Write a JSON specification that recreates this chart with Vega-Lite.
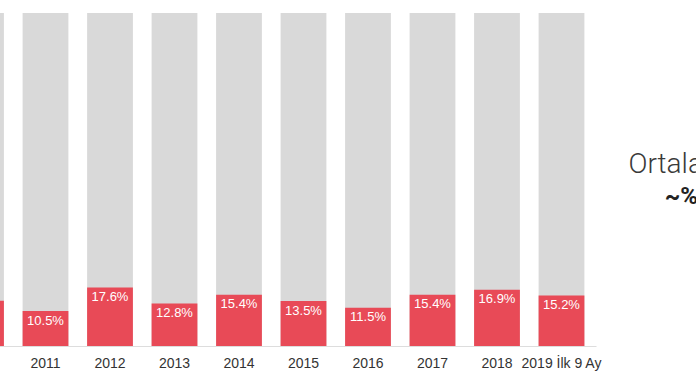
{
  "$schema": "https://vega.github.io/schema/vega-lite/v6.json",
  "width": 596,
  "height": 333,
  "autosize": {"type": "none"},
  "padding": {"left": 0, "top": 13, "right": 100, "bottom": 39},
  "background": "white",
  "config": {"view": {"stroke": null}, "font": "Liberation Sans"},
  "data": {
    "values": [
      {"year": "2010", "value": 13.6},
      {"year": "2011", "value": 10.5},
      {"year": "2012", "value": 17.6},
      {"year": "2013", "value": 12.8},
      {"year": "2014", "value": 15.4},
      {"year": "2015", "value": 13.5},
      {"year": "2016", "value": 11.5},
      {"year": "2017", "value": 15.4},
      {"year": "2018", "value": 16.9},
      {"year": "2019 İlk 9 Ay", "value": 15.2}
    ]
  },
  "encoding": {
    "x": {
      "field": "year",
      "type": "nominal",
      "sort": null,
      "scale": {"range": [-53.5, 596], "paddingInner": 0.29, "paddingOuter": 0.18},
      "axis": {
        "title": null,
        "labelAngle": 0,
        "labelFontSize": 14,
        "labelColor": "#333333",
        "labelPadding": 10,
        "ticks": false,
        "tickSize": 0,
        "domainColor": "#dddddd",
        "labelFont": "Liberation Sans",
        "labelOverlap": false,
        "labelBound": false,
        "labelFlush": false,
        "grid": false
      }
    }
  },
  "layer": [
    {
      "mark": {"type": "bar", "color": "#D9D9D9"},
      "encoding": {"y": {"datum": 100, "type": "quantitative", "scale": {"domain": [0, 100]}, "axis": null}}
    },
    {
      "mark": {"type": "bar", "color": "#E84A57"},
      "encoding": {"y": {"field": "value", "type": "quantitative", "axis": null}}
    },
    {
      "transform": [{"calculate": "format(datum.value, '.1f') + '%'", "as": "label"}],
      "mark": {"type": "text", "color": "white", "fontSize": 13, "font": "Liberation Sans", "baseline": "alphabetic", "dy": 13.5},
      "encoding": {"y": {"field": "value", "type": "quantitative"}, "text": {"field": "label"}}
    },
    {
      "data": {"values": [{"note": "Ortalama"}]},
      "mark": {"type": "text", "font": "Roboto", "fontWeight": 300, "fontSize": 28, "color": "#3a3a3a", "align": "left", "baseline": "alphabetic", "dx": 67},
      "encoding": {
        "x": {"datum": "2019 İlk 9 Ay", "type": "nominal"},
        "y": {"datum": 51.9, "type": "quantitative"},
        "text": {"field": "note"}
      }
    },
    {
      "data": {"values": [{"note": "~%14"}]},
      "mark": {"type": "text", "font": "Roboto", "fontWeight": "bold", "fontSize": 24, "color": "#222222", "align": "left", "baseline": "alphabetic", "dx": 103.3},
      "encoding": {
        "x": {"datum": "2019 İlk 9 Ay", "type": "nominal"},
        "y": {"datum": 42.6, "type": "quantitative"},
        "text": {"field": "note"}
      }
    }
  ]
}
